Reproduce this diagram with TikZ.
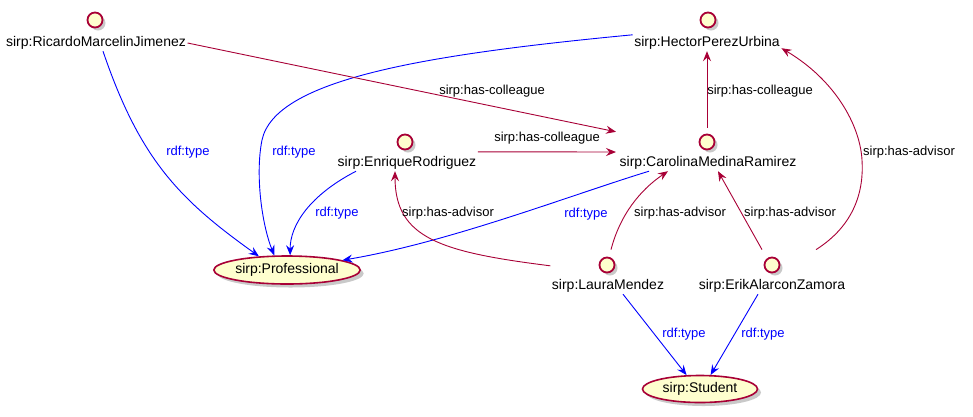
\documentclass[tikz,border=0pt]{standalone}
\usepackage{fontspec}
\setmainfont{Liberation Sans}
\usetikzlibrary{arrows.meta,shapes.geometric,shadows,calc}
\definecolor{pred}{HTML}{A80036}
\definecolor{pfill}{HTML}{FEFECE}
\definecolor{pblue}{HTML}{0000FF}
\begin{document}
\begin{tikzpicture}[x=1pt,y=-1pt,
  ent/.style={circle,draw=pred,fill=pfill,line width=1.8pt,minimum size=15pt,inner sep=0pt,
    drop shadow={shadow xshift=3pt,shadow yshift=-3pt,opacity=0.3,fill=black!70}},
  elab/.style={font=\fontsize{14}{16}\selectfont,text height=10pt,text depth=3pt,inner sep=1.5pt},
  cls/.style={ellipse,draw=pred,fill=pfill,line width=1.6pt,inner sep=0pt,
    font=\fontsize{14}{16}\selectfont,
    drop shadow={shadow xshift=3.5pt,shadow yshift=-3.5pt,opacity=0.3,fill=black!70}},
  typ/.style={draw=pblue,line width=0.9pt,-{Stealth[length=10pt,width=8pt,inset=3.5pt]}},
  rel/.style={draw=pred,line width=0.9pt,-{Stealth[length=10pt,width=8pt,inset=3.5pt]}},
  tlab/.style={text=pblue,font=\fontsize{13}{15}\selectfont,inner sep=1pt},
  rlab/.style={text=black,font=\fontsize{13}{15}\selectfont,inner sep=1pt}
]
\useasboundingbox (0,0) rectangle (973,416);

% entities
\node[ent] (ricC) at (95,20) {};
\node[elab] (ric) at (96,43) {sirp:RicardoMarcelinJimenez};
\node[ent] (hecC) at (708,20) {};
\node[elab] (hec) at (707,43) {sirp:HectorPerezUrbina};
\node[ent] (enrC) at (405,142) {};
\node[elab] (enr) at (407,163) {sirp:EnriqueRodriguez};
\node[ent] (carC) at (707,142) {};
\node[elab] (car) at (708,163) {sirp:CarolinaMedinaRamirez};
\node[ent] (lauC) at (607,265) {};
\node[elab] (lau) at (608,286) {sirp:LauraMendez};
\node[ent] (erkC) at (772,265) {};
\node[elab] (erk) at (772,286) {sirp:ErikAlarconZamora};

% classes
\node[cls,minimum width=142pt,minimum height=28pt] (prof) at (287,270) {sirp:Professional};
\node[cls,minimum width=115pt,minimum height=27pt] (stud) at (700,389) {sirp:Student};

% rdf:type edges
\draw[typ] ($(ric.south)+(7,0)$) .. controls (140,160) and (180,200) .. (prof.154);
\draw[typ] (hec.north west) .. controls (420,55) and (275,80) .. (262,140)
   .. controls (255,175) and (262,225) .. (prof.131);
\draw[typ] ($(enr.south west)+(20,0)$) .. controls (310,195) and (290,225) .. (prof.78);
\draw[typ] ($(car.south west)+(31,0)$) .. controls (568,196) and (450,242) .. (prof.10);
\draw[typ] ($(lau.south)+(15,0)$) -- (stud.134.7);
\draw[typ] ($(erk.south)+(-14,0)$) -- (stud.53);

% relation edges
\draw[rel] (ric.east) -- ($(car.north west)+(-2,-23)$);
\draw[rel] ($(enr.north east)+(0,-3)$) -- ($(car.west)+(-2,-11)$);
\draw[rel] ($(carC.north)+(0,-6)$) -- (hec.south);
\draw[rel] ($(lau.north west)+(0,-12)$) .. controls (440,252) and (395,238) .. ($(enr.south)+(-12,0)$);
\draw[rel] ($(lauC.north)+(4,-7)$) .. controls (620,215) and (640,190) .. ($(car.south)+(-40,0)$);
\draw[rel] ($(erkC.north)+(-10,-7)$) -- ($(car.south)+(10,0)$);
\draw[rel] ($(erkC.north)+(44,-7)$) .. controls (855,225) and (864,190) .. (862,160)
   .. controls (860,125) and (835,80) .. ($(hec.south east)+(0,-3)$);

% edge labels
\node[tlab] (l1) at (188,152) {rdf:type};
\node[tlab] (l2) at (294,152) {rdf:type};
\node[tlab] (l3) at (337,213) {rdf:type};
\node[tlab] (l4) at (586,214) {rdf:type};
\node[rlab] (l5) at (492,91) {sirp:has-colleague};
\node[rlab] (l6) at (547,138) {sirp:has-colleague};
\node[rlab] (l7) at (760,91) {sirp:has-colleague};
\node[rlab] (l8) at (448,213) {sirp:has-advisor};
\node[rlab] (l9) at (680,213) {sirp:has-advisor};
\node[rlab] (l10) at (790,213) {sirp:has-advisor};
\node[rlab] (l11) at (909,152) {sirp:has-advisor};
\node[tlab] (l12) at (684,334) {rdf:type};
\node[tlab] (l13) at (763,334) {rdf:type};
\end{tikzpicture}
\end{document}
